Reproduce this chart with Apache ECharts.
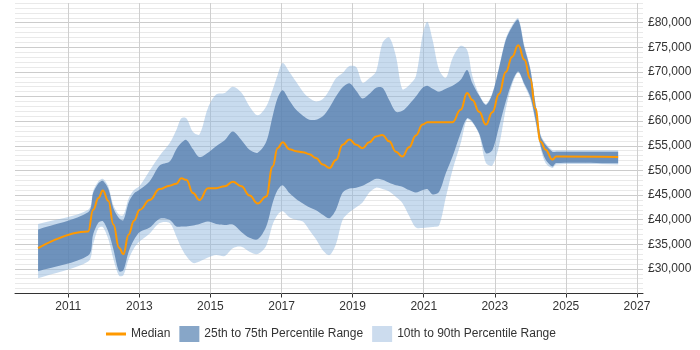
<!DOCTYPE html>
<html>
<head>
<meta charset="utf-8">
<script src="https://cdn.jsdelivr.net/npm/echarts@6/dist/echarts.min.js"></script>
<style>
  html, body { margin: 0; padding: 0; background: #fff; }
  #chart { width: 700px; height: 350px; }
</style>
</head>
<body>
<div id="chart"></div>
<script>
// dates as fractional years
var years = [2010.15, 2011.56, 2011.70, 2011.85, 2011.97, 2012.13, 2012.27, 2012.43, 2012.55, 2012.70,
  2012.85, 2013.01, 2013.29, 2013.57, 2013.85, 2014.04, 2014.18, 2014.32, 2014.51, 2014.69,
  2014.93, 2015.16, 2015.40, 2015.63, 2015.87, 2016.10, 2016.33, 2016.57, 2016.75, 2016.89,
  2017.03, 2017.22, 2017.41, 2017.60, 2017.78, 2017.97, 2018.16, 2018.35, 2018.53, 2018.72,
  2018.91, 2019.10, 2019.28, 2019.47, 2019.66, 2019.84, 2020.03, 2020.22, 2020.40, 2020.59,
  2020.78, 2020.97, 2021.10, 2021.25, 2021.43, 2021.62, 2021.81, 2022.04, 2022.22, 2022.37,
  2022.56, 2022.75, 2022.93, 2023.12, 2023.31, 2023.49, 2023.66, 2023.83, 2024.00, 2024.14,
  2024.29, 2024.43, 2024.62, 2024.73, 2026.47]

var p10 = [28100, 31500, 35000, 38300, 38500, 36000, 32000, 28600, 28700, 32000,
  34200, 35600, 37200, 39300, 39300, 36600, 34300, 32600, 31200, 31500,
  32300, 32800, 32600, 34200, 34500, 33500, 33000, 34700, 39000, 41000,
  41700, 40500, 40000, 39600, 37900, 36000, 33800, 32800, 35000, 40000,
  41500, 42500, 43500, 45500, 46500, 46200, 45700, 44600, 43400, 40800,
  38400, 38300, 38400, 38500, 38800, 44500, 50100, 55500, 60400, 59700,
  57300, 51500, 51000, 55000, 62500, 67500, 69900, 67300, 64500, 60000,
  54500, 51500, 50500, 51200, 51200]

var p25 = [29500, 32700, 37000, 39400, 39700, 37500, 34000, 29500, 29700, 33500,
  35900, 37500, 38400, 40200, 40000, 38600, 38600, 38600, 38800, 39100,
  39600, 39100, 38900, 39000, 37500, 36300, 36000, 38600, 43400, 46000,
  47000, 45400, 44200, 43300, 42500, 41900, 41000, 40300, 42000, 45500,
  46300, 46500, 46900, 47600, 48300, 48100, 47500, 47000, 46700, 46000,
  45500, 46000, 46200, 45100, 45600, 49400, 52800, 57600, 60600, 59900,
  57500, 53500, 54100, 58900, 64000, 68000, 70100, 67600, 65000, 60500,
  55000, 52200, 50800, 51500, 51450]

var median = [34200, 37600, 42000, 44400, 45900, 43800, 39000, 34300, 33000, 37000,
  39800, 42000, 44000, 46200, 46900, 47300, 48400, 48100, 45400, 44000,
  46400, 46400, 46800, 47700, 46800, 44900, 43300, 44700, 50800, 54500,
  55700, 54300, 53900, 53700, 53300, 52500, 51200, 50500, 52100, 55200,
  56300, 55200, 54500, 55700, 56900, 57200, 55900, 53800, 52800, 54700,
  57100, 59300, 59800, 59800, 59800, 59800, 59800, 62300, 65700, 64300,
  61900, 59300, 61800, 65500, 70000, 73100, 75400, 72500, 68600, 62600,
  55800, 54200, 52200, 52800, 52700]

var p75 = [38000, 41500, 45400, 47400, 47900, 46200, 42300, 40300, 39900, 43500,
  45300, 46100, 47800, 51000, 51800, 54300, 55600, 56200, 54300, 52700,
  53600, 54900, 56100, 57900, 56200, 54200, 53600, 55800, 61000, 64700,
  66300, 64200, 62300, 61100, 60300, 60300, 61000, 62800, 65000, 66900,
  67700, 66200, 64600, 65500, 66800, 66800, 64300, 61900, 62100, 63400,
  65000, 66800, 67200, 66600, 66000, 66600, 67200, 68400, 70400, 67700,
  65200, 63300, 65500, 70800, 76500, 79200, 80600, 75000, 70500, 63700,
  57000, 55200, 53800, 53800, 53800]

var p90 = [39100, 42000, 45800, 47800, 48300, 46700, 42900, 41000, 40900, 44300,
  46000, 46900, 50000, 53000, 55500, 58200, 60600, 60600, 57800, 57300,
  62700, 65400, 65700, 67000, 65800, 63000, 61200, 63000, 66400, 69400,
  71800, 70000, 68000, 66000, 64700, 64000, 64500, 66400, 68700, 69800,
  71200, 71000, 67800, 68700, 70100, 75900, 77000, 73200, 66500, 67300,
  69100, 77500, 80200, 76500, 70500, 68800, 72800, 75300, 74500, 69100,
  65400, 63500, 65700, 71000, 76800, 79500, 80900, 75400, 70800, 64000,
  57300, 55500, 54100, 54100, 54100]

var yearTicks = [2011, 2013, 2015, 2017, 2019, 2021, 2023, 2025, 2027]

var font = '"Liberation Sans", Arial, sans-serif'
var lightBand = 'rgba(145, 183, 221, 0.5)'
var darkBand = 'rgba(80, 122, 171, 0.75)'
var YEAR_MS = 365.25 * 86400000

// fractional year -> timestamp (ms)
function toTime (y) {
  var whole = Math.floor(y)
  return Date.UTC(whole, 0, 1) + (y - whole) * YEAR_MS
}
function pairs (arr) {
  return years.map(function (y, i) { return [toTime(y), arr[i]] })
}
function money (v) {
  if (v % 5000 !== 0 || v > 80000 || v < 30000) return ''
  return '£' + String(v).replace(/\B(?=(\d{3})+(?!\d))/g, ',')
}

var tickTimes = yearTicks.map(function (y) { return Date.UTC(y, 0, 1) })

// one filled polygon between lower and upper, drawn on the first item
function band (name, lower, upper, color) {
  return {
    type: 'custom',
    name: name,
    silent: true,
    encode: { x: 0, y: [1, 2] },
    itemStyle: { color: color },
    data: years.map(function (y, i) { return [toTime(y), lower[i], upper[i]] }),
    renderItem: function (params, api) {
      if (params.dataIndex !== 0) return null
      var last = years.length - 1
      var pts = []
      // corners pushed twice so the band ends stay square
      pts.push(api.coord([toTime(years[0]), upper[0]]))
      for (var i = 0; i <= last; i++) {
        pts.push(api.coord([toTime(years[i]), upper[i]]))
      }
      pts.push(api.coord([toTime(years[last]), upper[last]]))
      pts.push(api.coord([toTime(years[last]), lower[last]]))
      for (var j = last; j >= 0; j--) {
        pts.push(api.coord([toTime(years[j]), lower[j]]))
      }
      pts.push(api.coord([toTime(years[0]), lower[0]]))
      return {
        type: 'polygon',
        shape: { points: pts, smooth: 0.3 },
        style: { fill: color, stroke: null }
      }
    }
  }
}

var myChart = echarts.init(document.getElementById('chart'))
var option = {
  animation: false,
  textStyle: { fontFamily: font },
  grid: { left: 15, right: 57, top: 3, bottom: 56.5 },
  xAxis: {
    type: 'value',
    min: toTime(2009.5),
    max: toTime(2027.17),
    axisLine: { lineStyle: { color: '#333', width: 1 } },
    axisTick: { show: true, length: 4, customValues: tickTimes, lineStyle: { color: '#333' } },
    axisLabel: {
      customValues: tickTimes,
      color: '#333',
      fontSize: 12,
      margin: 7,
      fontFamily: font,
      formatter: function (v) { return String(new Date(v + 2 * 86400000).getUTCFullYear()) }
    },
    splitLine: { show: false }
  },
  yAxis: {
    type: 'value',
    position: 'right',
    min: 25000,
    max: 84000,
    interval: 1000,
    axisLine: { show: false },
    axisTick: { show: false },
    axisLabel: { formatter: money, color: '#333', fontSize: 12, margin: 5, fontFamily: font },
    splitLine: { lineStyle: { color: ['#cccccc', '#e9e9e9', '#e9e9e9', '#e9e9e9', '#e9e9e9'] } }
  },
  legend: {
    top: 321,
    left: 101,
    itemWidth: 20,
    itemHeight: 16,
    itemGap: 9,
    textStyle: { color: '#333', fontSize: 12, fontFamily: font },
    data: [
      { name: 'Median', icon: 'path://M0,0H20V3H0Z', itemStyle: { color: '#ff9900', borderWidth: 0 } },
      { name: '25th to 75th Percentile Range', icon: 'rect', itemStyle: { color: '#87a6c8', borderWidth: 0 } },
      { name: '10th to 90th Percentile Range', icon: 'rect', itemStyle: { color: '#ccdcee', borderWidth: 0 } }
    ]
  },
  series: [
    band('10th to 90th Percentile Range', p10, p90, lightBand),
    band('25th to 75th Percentile Range', p25, p75, darkBand),
    {
      name: 'Median',
      type: 'line',
      symbol: 'none',
      smooth: 0.45,
      smoothMonotone: 'x',
      z: 5,
      lineStyle: { color: '#ff9900', width: 2 },
      itemStyle: { color: '#ff9900' },
      data: pairs(median),
      markLine: {
        silent: true,
        symbol: 'none',
        z: 1,
        label: { show: false },
        lineStyle: { color: '#cfcfcf', width: 1, type: 'solid' },
        data: tickTimes.map(function (t) { return { xAxis: t } })
      }
    }
  ]
}
myChart.setOption(option)
</script>
</body>
</html>
